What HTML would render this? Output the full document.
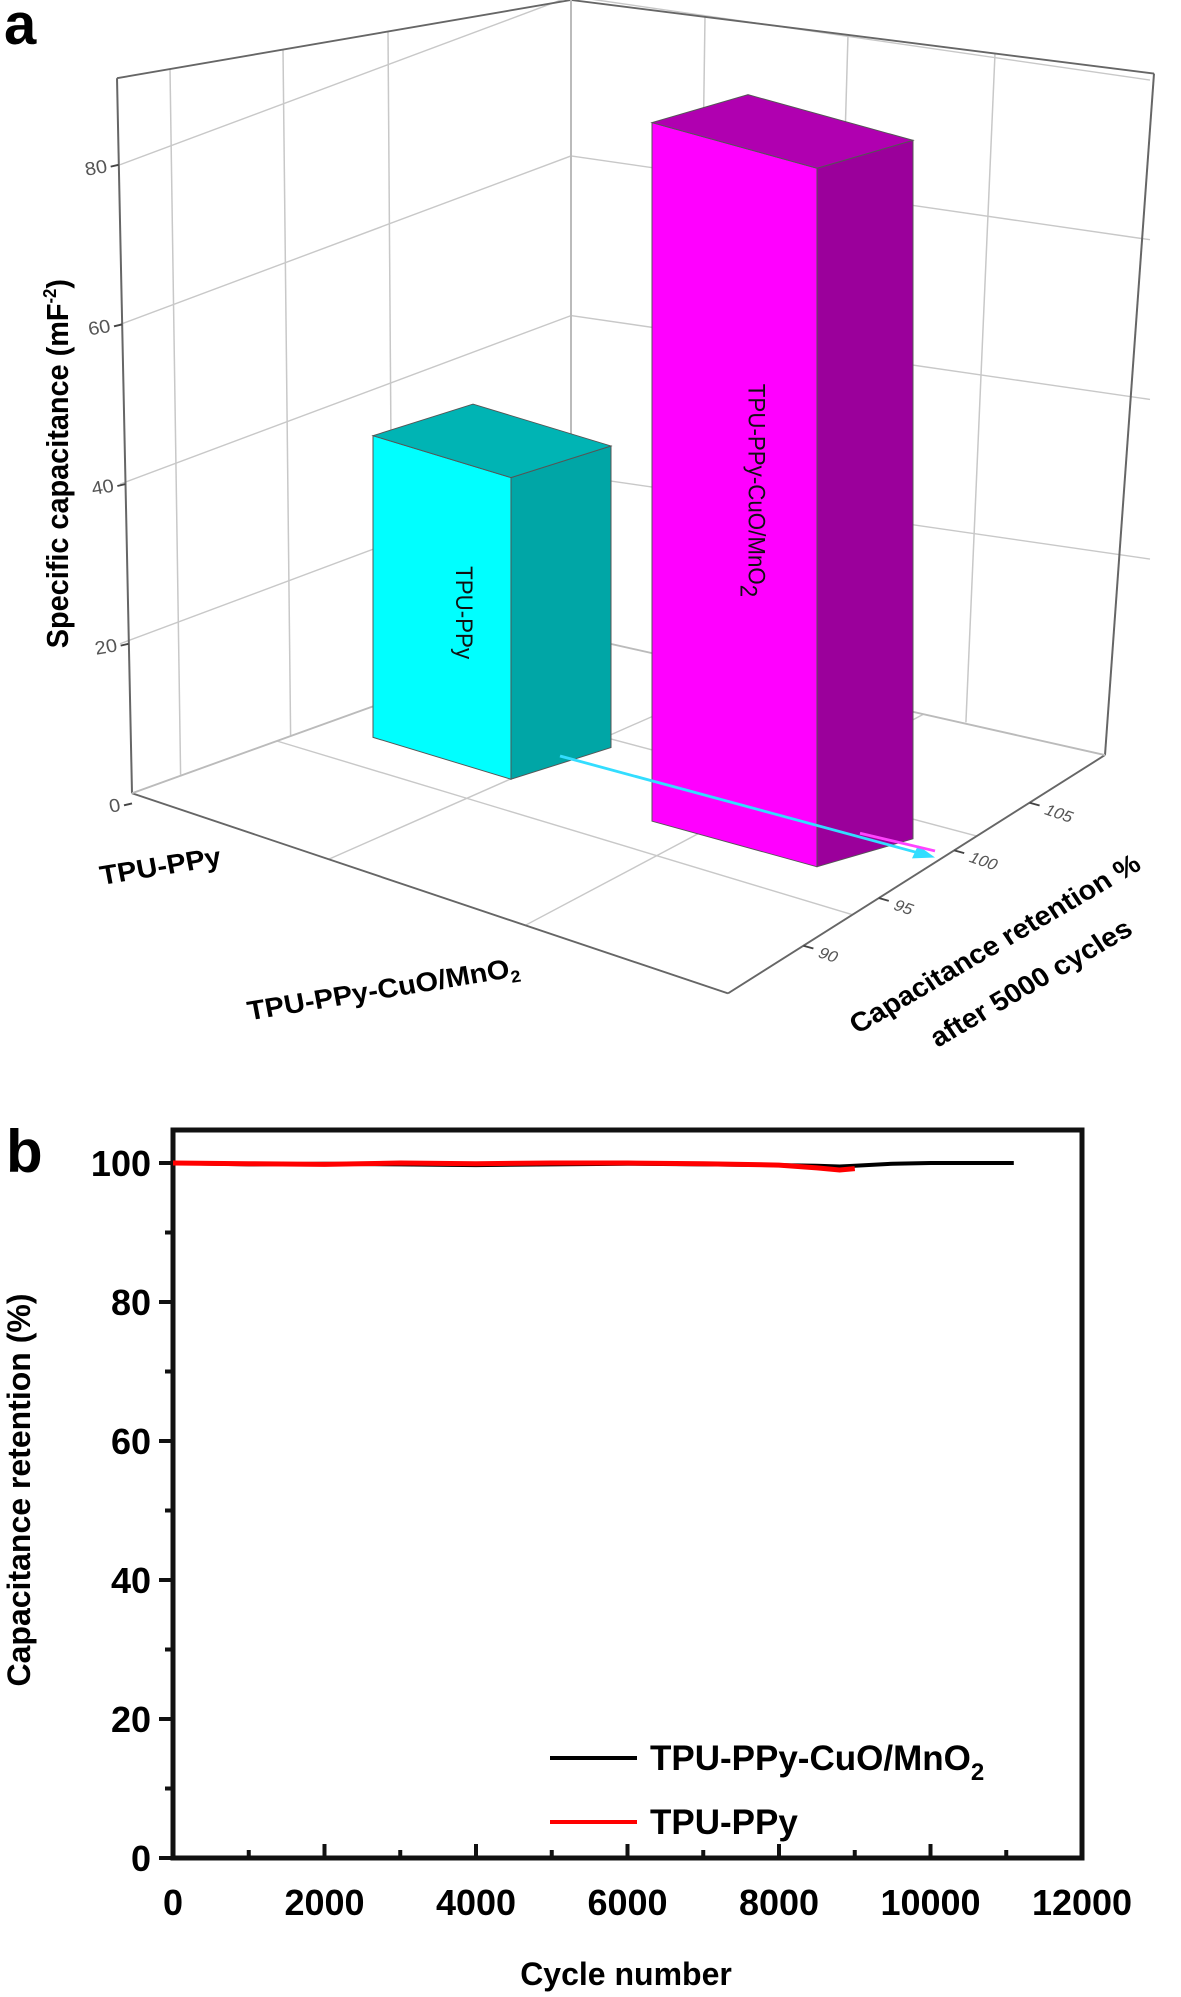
<!DOCTYPE html>
<html><head><meta charset="utf-8"><style>
html,body{margin:0;padding:0;background:#fff}
svg{display:block}
text{font-family:"Liberation Sans",Arial,sans-serif}
</style></head><body>
<svg id="fig" width="1181" height="1997" viewBox="0 0 1181 1997" xmlns="http://www.w3.org/2000/svg">
<text x="4" y="44" font-family="Liberation Serif" font-weight="bold" font-size="58">a</text>
<g id="panelA" transform="scale(1,0.931)">
  <g id="walls" stroke="#c8c8c8" stroke-width="1.5" fill="none"></g>
  <g id="frame3d" stroke="#777" stroke-width="2" fill="none"></g>
  <g id="bars3d"></g>
  <g id="ticks3d"></g>
  <text transform="translate(68,498) rotate(-90)" text-anchor="middle" font-weight="bold" font-size="31">Specific capacitance (mF<tspan font-size="18" dy="-12">-2</tspan><tspan dy="12">)</tspan></text>
  <text transform="translate(162,940) rotate(-10)" text-anchor="middle" font-weight="bold" font-size="29">TPU-PPy</text>
  <text transform="translate(385,1072) rotate(-10)" text-anchor="middle" font-weight="bold" font-size="29">TPU-PPy-CuO/MnO<tspan font-size="18" dy="6">2</tspan></text>
  <text transform="translate(1000,1022) rotate(-32)" text-anchor="middle" font-weight="bold" font-size="29">Capacitance retention %</text>
  <text transform="translate(1036,1064) rotate(-32)" text-anchor="middle" font-weight="bold" font-size="29">after 5000 cycles</text>
</g>
<g id="panelB">
  <text x="6" y="1172" font-family="Liberation Serif" font-weight="bold" font-size="60">b</text>
  <rect x="173" y="1130" width="909" height="728" fill="none" stroke="#111" stroke-width="5"/>
  <g id="axesB"></g>
  <g id="seriesB"></g>
  <text transform="translate(30,1490) rotate(-90)" text-anchor="middle" font-weight="bold" font-size="32">Capacitance retention (%)</text>
  <text x="626" y="1985" text-anchor="middle" font-weight="bold" font-size="32">Cycle number</text>
  <line x1="550" y1="1758" x2="637" y2="1758" stroke="#000" stroke-width="4"/>
  <text x="650" y="1770" font-weight="bold" font-size="35">TPU-PPy-CuO/MnO<tspan font-size="24" dy="10">2</tspan></text>
  <line x1="550" y1="1822" x2="637" y2="1822" stroke="#f00" stroke-width="4"/>
  <text x="650" y="1834" font-weight="bold" font-size="35">TPU-PPy</text>
</g>
</svg>
<script>
// ---- Panel a data ----
const barCategories = ["TPU-PPy", "TPU-PPy-CuO/MnO2"];
const barCapacitance = [45, 86];
const zTicks = [0, 20, 40, 60, 80];
const retentionTicks = [90, 95, 100, 105];
// ---- Panel b data ----
const cycles = [0, 1000, 2000, 3000, 4000, 5000, 6000, 7000, 8000, 8500, 8800, 9000, 9500, 10000, 10500, 11100];
const retentionCuO = [100, 99.8, 99.9, 99.8, 99.7, 99.8, 99.9, 99.8, 99.7, 99.6, 99.5, 99.6, 99.9, 100, 100, 100];
const retentionPPy = [100, 99.9, 99.8, 100, 99.9, 100, 100, 99.9, 99.7, 99.3, 99.0, 99.2];
const xTicks = [0, 2000, 4000, 6000, 8000, 10000, 12000];
const yTicks = [0, 20, 40, 60, 80, 100];

const NS = "http://www.w3.org/2000/svg";
function mk(tag, attrs, parent){const e=document.createElementNS(NS,tag);for(const k in attrs)e.setAttribute(k,attrs[k]);parent.appendChild(e);return e;}

// ---- Panel a ----
const zScale = v => 863 - v * (863 - 177) / 80;
const walls = document.getElementById('walls');
const frame = document.getElementById('frame3d');
[20,40,60,80].forEach(v=>{
  const y=zScale(v);
  let l=mk('line',{x1:120,y1:y,x2:571,y2:y-(863-682)},walls);
  
  
  let r=mk('line',{x1:571,y1:y-(863-682),x2:1150,y2:y-(863-682)+90},walls);
  
  
});
[170,283,388].forEach(x=>{
  const t=(x-117)/(571-117);
  let l=mk('line',{x1:x,y1:84-84*t,x2:x+12*(1-t),y2:852-170*t},walls);
  
  
});
[705,848,995].forEach(x=>{
  const t=(x-571)/(1154-571);
  let l=mk('line',{x1:x,y1:79*t,x2:x-40*t,y2:682+129*t},walls);
  
  
});
[0.33,0.66].forEach(t=>{
  let l=mk('line',{x1:132+(728-132)*t,y1:852+(1067-852)*t,x2:571+(1105-571)*t,y2:682+(811-682)*t},walls);
  
  
  let m=mk('line',{x1:132+(571-132)*t,y1:852+(682-852)*t,x2:728+(1105-728)*t,y2:1067+(811-1067)*t},walls);
  
  
});
[[117,84,132,852,'#666'],[117,84,571,0,'#666'],[571,0,1154,79,'#666'],[1154,79,1105,811,'#666'],[132,852,728,1067,'#666'],[728,1067,1105,811,'#666'],[571,0,571,682,'#bbb'],[132,852,571,682,'#bbb'],[571,682,1105,811,'#bbb']].forEach(s=>{
  let l=mk('line',{x1:s[0],y1:s[1],x2:s[2],y2:s[3],stroke:s[4]},frame);
  
  
});
const tk=document.getElementById('ticks3d');
zTicks.forEach(v=>{
  const y=zScale(v), x=117+15*(v===0?1:(1-v/90));
  let l=mk('line',{x1:x-8,y1:y+2,x2:x,y2:y,stroke:'#444','stroke-width':2},tk);
  
  
  let t=mk('text',{x:x-12,y:y+8,'text-anchor':'end','font-size':20,fill:'#555',transform:`rotate(-10 ${x-12} ${y})`},tk);
  t.textContent=v;
  
  
});
retentionTicks.forEach(v=>{
  const t=(v-85)/(110-85);
  const x=728+(1105-728)*t, y=1067+(811-1067)*t;
  let l=mk('line',{x1:x,y1:y,x2:x+10,y2:y+3,stroke:'#444','stroke-width':2},tk);
  
  
  let tx=mk('text',{x:x+14,y:y+12,'font-size':17,fill:'#555','font-style':'italic',transform:`rotate(20 ${x+14} ${y+12})`},tk);
  tx.textContent=v;
  
  
});
const bars=document.getElementById('bars3d');
const barGeom=[
 {x0:373,x1:511,base:[792,837],depthDx:100,depthDy:-34,cols:['#00ffff','#00a6a6','#00b4b4'],k:1.0,off:7},
 {x0:652,x1:817,base:[882,931],depthDx:96,depthDy:-30,cols:['#ff00ff','#9b009b','#b000b0'],k:1.10,off:6}
];
const pxPerUnit=(837-513)/(45-7);
barCategories.forEach((c,i)=>{
  const g=barGeom[i];
  const hh = (barCapacitance[i]-g.off)*pxPerUnit*g.k;
  const TL=[g.x0,g.base[0]-hh], TR=[g.x1,g.base[1]-hh], BR=[g.x1,g.base[1]], BL=[g.x0,g.base[0]];
  const d=[g.depthDx,g.depthDy];
  const add=p=>[p[0]+d[0],p[1]+d[1]];
  const pts=a=>a.map(p=>p.join(',')).join(' ');
  let f=mk('polygon',{points:pts([TL,TR,BR,BL]),fill:g.cols[0],stroke:'#555','stroke-width':1},bars);
  
  
  let r=mk('polygon',{points:pts([TR,add(TR),add(BR),BR]),fill:g.cols[1],stroke:'#555','stroke-width':1},bars);
  
  
  let t=mk('polygon',{points:pts([TL,add(TL),add(TR),TR]),fill:g.cols[2],stroke:'#555','stroke-width':1},bars);
  
  
  const cx=(g.x0+g.x1)/2+14, cy=(TL[1]+BL[1])/2+(i===0?28:20);
  let lb=mk('text',{transform:`translate(${cx},${cy}) rotate(90)`,'text-anchor':'middle','font-size':24,fill:'#111'},bars);
  if(i===0){lb.textContent=c;}else{lb.innerHTML='TPU-PPy-CuO/MnO<tspan font-size="24" dy="8">2</tspan>';}
  
  
});
let a1=mk('line',{x1:560,y1:812,x2:925,y2:918,stroke:'#33ddff','stroke-width':3},bars);


let a1h=mk('polygon',{points:'935,921 912,922 918,908',fill:'#33ddff'},bars);


let a2=mk('line',{x1:860,y1:895,x2:935,y2:914,stroke:'#ff44ff','stroke-width':3},bars);



// ---- Panel b ----
const X0=173, X1=1082, Y0=1858, Y100=1163;
const xs=v=>X0+(X1-X0)*v/12000;
const ys=v=>Y0-(Y0-Y100)*v/100;
const ax=document.getElementById('axesB');
yTicks.forEach(v=>{
  let l=mk('line',{x1:X0-14,y1:ys(v),x2:X0,y2:ys(v),stroke:'#111','stroke-width':4},ax);
  
  
  let t=mk('text',{x:X0-22,y:ys(v)+13,'text-anchor':'end','font-size':36,'font-weight':'bold'},ax);
  t.textContent=v;
  
  
  if(v<100){let m=mk('line',{x1:X0-8,y1:ys(v+10),x2:X0,y2:ys(v+10),stroke:'#111','stroke-width':4},ax);
  
  }
});
xTicks.forEach(v=>{
  let l=mk('line',{x1:xs(v),y1:Y0,x2:xs(v),y2:Y0-14,stroke:'#111','stroke-width':4},ax);
  
  
  let t=mk('text',{x:xs(v),y:Y0+57,'text-anchor':'middle','font-size':36,'font-weight':'bold'},ax);
  t.textContent=v;
  
  
  if(v<12000){let m=mk('line',{x1:xs(v+1000),y1:Y0,x2:xs(v+1000),y2:Y0-8,stroke:'#111','stroke-width':4},ax);
  
  }
});
const sb=document.getElementById('seriesB');
const pathOf=(xa,ya)=>xa.slice(0,ya.length).map((x,i)=>(i?'L':'M')+xs(x).toFixed(1)+','+ys(ya[i]).toFixed(1)).join(' ');
let pb=mk('path',{d:pathOf(cycles,retentionCuO),fill:'none',stroke:'#000','stroke-width':4},sb);


let pr=mk('path',{d:pathOf(cycles,retentionPPy),fill:'none',stroke:'#f00','stroke-width':5},sb);


</script>
</body></html>
